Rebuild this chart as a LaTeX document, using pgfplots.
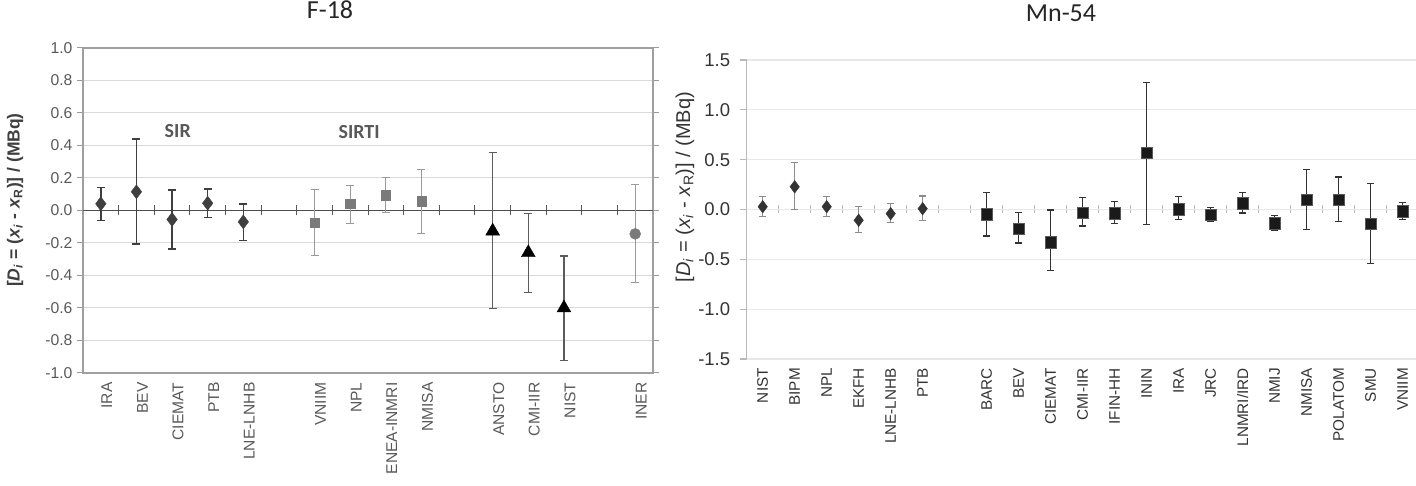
\documentclass[border=0pt]{standalone}
\usepackage{fontspec}
\setmainfont{Liberation Sans}
\newfontfamily\calibri{Carlito}
\usepackage{pgfplots}
\pgfplotsset{compat=1.18}
\pgfplotsset{set layers}
\definecolor{sir}{HTML}{3F3F3F}
\definecolor{sirti}{HTML}{7A7A7A}
\definecolor{sirtibar}{HTML}{9A9A9A}
\definecolor{lbl}{HTML}{595959}
\definecolor{dkl}{HTML}{333333}
\definecolor{mnsq}{HTML}{1A1A1A}
\begin{document}
\begin{tikzpicture}
% ---------------- F-18 ----------------
\begin{axis}[
  at={(83pt,113pt)}, anchor=south west, scale only axis,
  width=570pt, height=325pt,
  xmin=0.5, xmax=16.5, ymin=-1, ymax=1,
  ytick={-1,-0.8,-0.6,-0.4,-0.2,0,0.2,0.4,0.6,0.8,1},
  yticklabel style={/pgf/number format/fixed, /pgf/number format/fixed zerofill, /pgf/number format/precision=1, /pgf/number format/assume math mode=true, font=\fontsize{15.7}{15.7}\selectfont, text=lbl, xshift=-1pt},
  ytick pos=both, yticklabel pos=left,
  tick align=outside, major tick length=6pt,
  ytick style={gray!80, line width=1pt},
  ymajorgrids, grid style={gray!30, line width=1pt},
  axis line style={gray!75, line width=1.2pt},
  xtick={1,2,3,4,5,7,8,9,10,12,13,14,16},
  xticklabels={IRA,BEV,CIEMAT,PTB,LNE-LNHB,VNIIM,NPL,ENEA-INMRI,NMISA,ANSTO,CMI-IIR,NIST,INER},
  xticklabel style={rotate=90, anchor=east, font=\fontsize{15.6}{15.6}\selectfont, text=lbl, yshift=-6pt},
  xtick style={draw=none},
  every axis y label/.style={at={(axis description cs:-0.119,0.532)}, rotate=90, anchor=center},
  ylabel={\bfseries [\textit{D}\textsubscript{\textit{i}} = (\textit{x}\textsubscript{\textit{i}} - \textit{x}\textsubscript{R})] / (MBq)},
  ylabel style={font=\fontsize{17.5}{17.5}\selectfont, text=sir},
  clip=false,
]
\addplot[only marks, mark=diamond*, mark size=7pt, color=sir, mark options={fill=sir, draw=sir},
  error bars/.cd, y dir=both, y explicit,
  error bar style={line width=1.4pt, color=sir},
  error mark options={rotate=90, mark size=4pt, line width=1.4pt, color=sir}]
coordinates {
(1,0.041) += (0,0.099) -= (0,0.103)
(2,0.115) += (0,0.325) -= (0,0.320)
(3,-0.055) += (0,0.180) -= (0,0.183)
(4,0.045) += (0,0.088) -= (0,0.088)
(5,-0.070) += (0,0.109) -= (0,0.113)
};
\addplot[only marks, mark=square*, mark size=4.7pt, color=sirti, mark options={fill=sirti, draw=sirti},
  error bars/.cd, y dir=both, y explicit,
  error bar style={line width=1.2pt, color=sirtibar},
  error mark options={rotate=90, mark size=4pt, line width=1.2pt, color=sirtibar}]
coordinates {
(7,-0.076) += (0,0.203) -= (0,0.199)
(8,0.041) += (0,0.111) -= (0,0.121)
(9,0.094) += (0,0.109) -= (0,0.106)
(10,0.057) += (0,0.193) -= (0,0.199)
};
\addplot[only marks, mark=triangle*, mark size=8pt, color=black, mark options={fill=black, draw=black},
  error bars/.cd, y dir=both, y explicit,
  error bar style={line width=1.2pt, color=sir!85},
  error mark options={rotate=90, mark size=4pt, line width=1.2pt, color=sir!85}]
coordinates {
(12,-0.127) += (0,0.486) -= (0,0.478)
(13,-0.260) += (0,0.240) -= (0,0.247)
(14,-0.600) += (0,0.320) -= (0,0.323)
};
\addplot[only marks, mark=*, mark size=5.5pt, color=sirti, mark options={fill=sirti, draw=sirti},
  error bars/.cd, y dir=both, y explicit,
  error bar style={line width=1.2pt, color=sirtibar},
  error mark options={rotate=90, mark size=4pt, line width=1.2pt, color=sirtibar}]
coordinates {
(16,-0.144) += (0,0.304) -= (0,0.301)
};
\node[font=\calibri\bfseries\fontsize{20}{20}\selectfont, text=lbl] at (axis cs:3.16,0.49) {SIR};
\node[font=\calibri\bfseries\fontsize{20}{20}\selectfont, text=lbl] at (axis cs:8.25,0.48) {SIRTI};
\end{axis}
% zero line with category separators (F-18)
\begin{axis}[
  at={(83pt,113pt)}, anchor=south west, scale only axis,
  width=570pt, height=325pt,
  xmin=0.5, xmax=16.5, ymin=-1, ymax=1,
  axis x line=middle, axis y line=none,
  xtick={1.5,2.5,3.5,4.5,5.5,6.5,7.5,8.5,9.5,10.5,11.5,12.5,13.5,14.5,15.5},
  xticklabels={}, ytick={0}, yticklabels={}, ytick style={draw=none},
  x axis line style={-, black!70, line width=1.4pt},
  xtick style={black!65, line width=1pt},
  tick align=center, major tick length=10pt,
]
\addplot[draw=none, mark=none] coordinates {(1,0) (2,0)};
\end{axis}
% ---------------- Mn-54 ----------------
\begin{axis}[
  at={(746.7pt,127pt)}, anchor=south west, scale only axis,
  width=669.3pt, height=299pt,
  xmin=0.5, xmax=21.42, ymin=-1.5, ymax=1.5,
  axis y line*=left, axis x line*=bottom,
  x axis line style={draw=none},
  y axis line style={-, gray!55, line width=1.2pt},
  ytick={-1.5,-1,-0.5,0,0.5,1,1.5},
  yticklabel style={/pgf/number format/fixed, /pgf/number format/fixed zerofill, /pgf/number format/precision=1, /pgf/number format/assume math mode=true, font=\fontsize{18.5}{18.5}\selectfont, text=dkl, xshift=-6pt},
  tick align=outside, major tick length=7pt,
  ytick style={gray!55, line width=1.2pt},
  ymajorgrids, grid style={gray!18, line width=1.2pt},
  xtick={1,2,3,4,5,6,8,9,10,11,12,13,14,15,16,17,18,19,20,21},
  xticklabels={NIST,BIPM,NPL,EKFH,LNE-LNHB,PTB,BARC,BEV,CIEMAT,CMI-IIR,IFIN-HH,ININ,IRA,JRC,LNMRI/IRD,NMIJ,NMISA,POLATOM,SMU,VNIIM},
  xticklabel style={rotate=90, anchor=east, font=\fontsize{15.3}{15.3}\selectfont, text=dkl, inner sep=2pt},
  xtick style={draw=none},
  every axis y label/.style={at={(axis description cs:-0.0922,0.575)}, rotate=90, anchor=center},
  ylabel={[\textit{D}\textsubscript{\textit{i}} = (\textit{x}\textsubscript{\textit{i}} - \textit{x}\textsubscript{R})] / (MBq)},
  ylabel style={font=\fontsize{20}{20}\selectfont, text=dkl},
  clip=false,
]
\addplot[only marks, mark=diamond*, mark size=6.3pt, color=dkl, mark options={fill=dkl, draw=dkl},
  error bars/.cd, y dir=both, y explicit,
  error bar style={line width=1.1pt, color=gray!90},
  error mark options={rotate=90, mark size=3.5pt, line width=1.1pt, color=gray!90}]
coordinates {
(1,0.028) += (0,0.100) -= (0,0.100)
(2,0.228) += (0,0.240) -= (0,0.228)
(3,0.028) += (0,0.100) -= (0,0.100)
(4,-0.108) += (0,0.136) -= (0,0.124)
(5,-0.042) += (0,0.104) -= (0,0.090)
(6,0.008) += (0,0.127) -= (0,0.116)
};
\addplot[only marks, mark=square*, mark size=5.6pt, color=mnsq, mark options={fill=mnsq, draw=gray!70!black},
  error bars/.cd, y dir=both, y explicit,
  error bar style={line width=1.4pt, color=black!80},
  error mark options={rotate=90, mark size=3.5pt, line width=1.4pt, color=black!80}]
coordinates {
(8,-0.048) += (0,0.218) -= (0,0.217)
(9,-0.195) += (0,0.163) -= (0,0.143)
(10,-0.328) += (0,0.321) -= (0,0.285)
(11,-0.035) += (0,0.157) -= (0,0.130)
(12,-0.038) += (0,0.116) -= (0,0.102)
(13,0.567) += (0,0.710) -= (0,0.717)
(14,0.002) += (0,0.131) -= (0,0.105)
(15,-0.050) += (0,0.073) -= (0,0.070)
(16,0.063) += (0,0.107) -= (0,0.100)
(17,-0.137) += (0,0.077) -= (0,0.073)
(18,0.100) += (0,0.300) -= (0,0.300)
(19,0.100) += (0,0.227) -= (0,0.220)
(20,-0.143) += (0,0.403) -= (0,0.397)
(21,-0.017) += (0,0.087) -= (0,0.083)
};
\end{axis}
% zero line with category separators (Mn-54)
\begin{axis}[
  at={(746.7pt,127pt)}, anchor=south west, scale only axis,
  width=669.3pt, height=299pt,
  xmin=0.5, xmax=21.42, ymin=-1.5, ymax=1.5,
  axis x line=middle, axis y line=none,
  xtick={1.5,2.5,3.5,4.5,5.5,6.5,7.5,8.5,9.5,10.5,11.5,12.5,13.5,14.5,15.5,16.5,17.5,18.5,19.5,20.5},
  xticklabels={}, ytick={0}, yticklabels={}, ytick style={draw=none},
  x axis line style={-, gray!18, line width=1.2pt},
  xtick style={gray!55, line width=1.3pt},
  tick align=center, major tick length=8pt,
]
\addplot[draw=none, mark=none] coordinates {(1,0) (2,0)};
\end{axis}
% titles
\node[font=\calibri\fontsize{26}{26}\selectfont, text=black!85] at (330pt,476pt) {F-18};
\node[font=\calibri\fontsize{26}{26}\selectfont, text=black!85] at (1061pt,472.5pt) {Mn-54};
\pgfresetboundingbox
\path[use as bounding box] (0pt,0pt) rectangle (1416pt,486pt);
\end{tikzpicture}
\end{document}
